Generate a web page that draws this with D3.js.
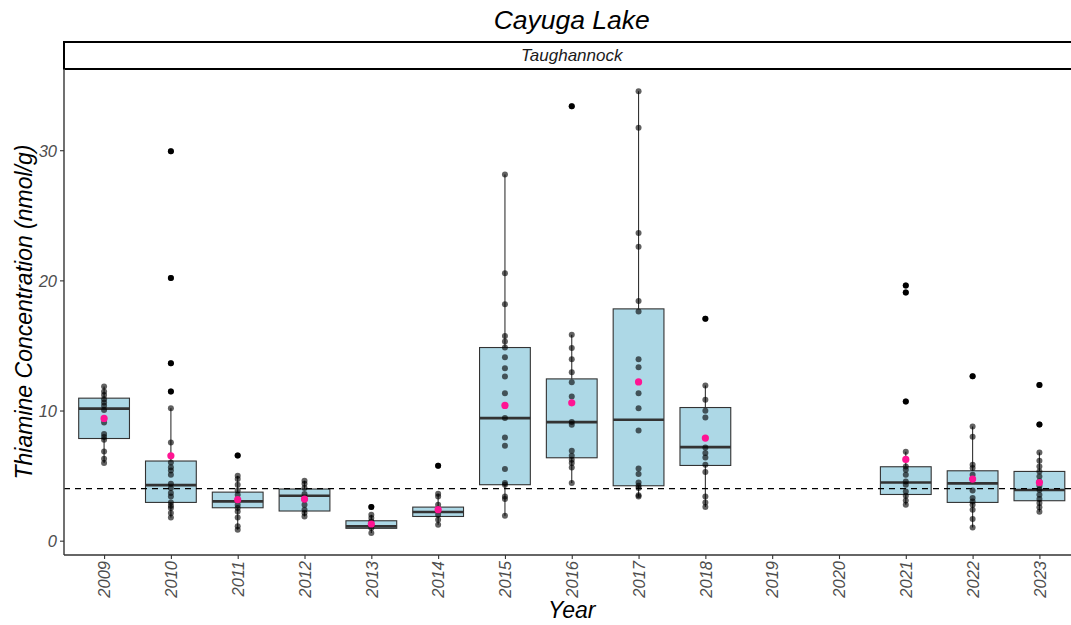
<!DOCTYPE html>
<html><head><meta charset="utf-8">
<script src="https://cdn.jsdelivr.net/npm/d3@7"></script>
<style>body{margin:0;background:#fff}svg{display:block}text{font-family:"Liberation Sans",Arial,sans-serif}</style>
</head><body><svg id="c" width="1071" height="625"></svg>
<script>
const years = ["2009","2010","2011","2012","2013","2014","2015","2016","2017","2018","2019","2020","2021","2022","2023"];
// box stats
const boxYears = ["2009","2010","2011","2012","2013","2014","2015","2016","2017","2018","2021","2022","2023"];
const whiskerLow = [5.96,1.79,0.84,1.86,0.59,1.23,1.92,4.43,3.40,2.58,2.76,1.02,2.23];
const q1 =        [7.85,2.94,2.53,2.28,0.95,1.86,4.30,6.37,4.22,5.78,3.55,2.94,3.07];
const median =    [10.15,4.27,3.02,3.45,1.10,2.20,9.42,9.11,9.29,7.19,4.47,4.40,3.89];
const q3 =        [10.95,6.12,3.73,3.97,1.53,2.58,14.84,12.43,17.81,10.23,5.68,5.37,5.32];
const whiskerHigh=[11.84,10.18,4.99,4.60,2.00,3.61,28.14,15.83,34.54,11.92,6.83,8.77,6.78];
const means =     [9.39,6.52,3.15,3.20,1.28,2.38,10.39,10.59,12.20,7.88,6.24,4.73,4.47];
const outliers = {
  "2010":[11.46,13.64,20.18,29.93],
  "2011":[6.55],
  "2013":[2.58],
  "2014":[5.76],
  "2016":[33.38],
  "2018":[17.06],
  "2021":[10.69,19.06,19.60],
  "2022":[12.64],
  "2023":[8.93,11.97]
};
const points = {
  "2009":[11.84,11.46,11.2,10.87,10.62,10.36,10.05,9.08,8.19,7.96,7.75,6.85,6.29,5.96],
  "2010":[29.93,20.18,13.64,11.46,10.18,7.55,6.01,5.65,5.40,5.07,4.37,4.04,3.66,3.40,2.94,2.69,2.51,2.12,1.79],
  "2011":[6.55,4.99,4.73,4.30,3.86,3.53,3.15,2.76,2.51,2.25,1.79,1.10,0.84],
  "2012":[4.60,4.37,4.04,3.58,3.15,2.76,2.38,2.12,1.86],
  "2013":[2.58,2.00,1.74,1.48,1.20,0.97,0.59],
  "2014":[5.76,3.61,3.40,2.76,2.38,2.00,1.61,1.23],
  "2015":[28.14,20.54,18.16,15.73,15.30,14.84,14.10,13.25,12.61,11.33,9.42,7.93,7.29,5.50,4.43,4.30,3.40,3.20,1.92],
  "2016":[33.38,15.83,14.81,13.94,12.95,12.18,11.07,9.11,8.90,6.91,6.52,6.22,5.96,5.63,4.43],
  "2017":[34.54,31.72,23.64,22.59,18.42,17.60,13.94,13.33,11.33,10.18,8.47,5.55,5.12,4.47,4.22,4.04,3.50,3.40],
  "2018":[17.06,11.92,10.82,9.98,9.46,7.16,6.73,6.39,5.83,5.27,3.40,2.94,2.58],
  "2021":[19.60,19.06,10.69,6.83,5.70,5.45,5.07,4.55,4.30,3.78,3.45,3.09,2.76],
  "2022":[12.64,8.77,7.98,5.83,5.58,5.07,4.73,3.86,3.28,3.02,2.76,2.38,1.67,1.02],
  "2023":[11.97,8.93,6.78,6.14,5.70,5.32,4.93,4.55,4.22,3.91,3.53,3.20,2.89,2.56,2.23]
};
const yTicks = [0,10,20,30];
const threshold = 4;

(function(){
const svg = d3.select("#c");
const pL = 64, pR = 1079.5, pT = 69, pB = 555;
const x = d3.scalePoint().domain(years).range([pL, pR]).padding(0.6);
const step = x.step();
const bw = step * 0.76;
const y = d3.scaleLinear().domain([-1.1, 36.24]).range([pB, pT]);

svg.append("text").attr("x", (pL+pR)/2).attr("y", 28.5).attr("text-anchor","middle")
  .style("font-size","26.5px").style("font-style","italic").attr("fill","#000").text("Cayuga Lake");
svg.append("rect").attr("x", pL).attr("y", 42).attr("width", pR-pL).attr("height", 27)
  .attr("fill","#fff").attr("stroke","#000").attr("stroke-width",2);
svg.append("text").attr("x",(pL+pR)/2).attr("y",61).attr("text-anchor","middle")
  .style("font-size","17px").style("font-style","italic").attr("fill","#1a1a1a").text("Taughannock");

const g = svg.append("g");
const boxes = boxYears.map((yr,i)=>({yr, lo:whiskerLow[i], q1:q1[i], med:median[i], q3:q3[i], hi:whiskerHigh[i], mean:means[i]}));

g.selectAll(".wh").data(boxes).join("line")
  .attr("x1",d=>x(d.yr)).attr("x2",d=>x(d.yr))
  .attr("y1",d=>y(d.lo)).attr("y2",d=>y(d.hi))
  .attr("stroke","#333").attr("stroke-width",1.1);
g.selectAll(".bx").data(boxes).join("rect")
  .attr("x",d=>x(d.yr)-bw/2).attr("width",bw)
  .attr("y",d=>y(d.q3)).attr("height",d=>y(d.q1)-y(d.q3))
  .attr("fill","#ADD8E6").attr("stroke","#333").attr("stroke-width",1.1);
g.selectAll(".md").data(boxes).join("line")
  .attr("x1",d=>x(d.yr)-bw/2).attr("x2",d=>x(d.yr)+bw/2)
  .attr("y1",d=>y(d.med)).attr("y2",d=>y(d.med))
  .attr("stroke","#333").attr("stroke-width",2.6);
const outData = [];
Object.keys(outliers).forEach(k=>outliers[k].forEach(v=>outData.push({yr:k,v})));
g.selectAll(".ol").data(outData).join("circle")
  .attr("cx",d=>x(d.yr)).attr("cy",d=>y(d.v)).attr("r",3)
  .attr("fill","#000");
g.append("line").attr("x1",pL).attr("x2",pR).attr("y1",y(threshold)).attr("y2",y(threshold))
  .attr("stroke","#000").attr("stroke-width",1.2).attr("stroke-dasharray","6,5");
const ptData = [];
Object.keys(points).forEach(k=>points[k].forEach(v=>ptData.push({yr:k,v})));
g.selectAll(".pt").data(ptData).join("circle")
  .attr("cx",d=>x(d.yr)).attr("cy",d=>y(d.v)).attr("r",3)
  .attr("fill","#000").attr("fill-opacity",0.62);
g.selectAll(".mn").data(boxes).join("circle")
  .attr("cx",d=>x(d.yr)).attr("cy",d=>y(d.mean)).attr("r",3.6)
  .attr("fill","#FF1493");

const yAxis = svg.append("g").attr("transform",`translate(${pL},0)`)
  .call(d3.axisLeft(y).tickValues(yTicks).tickSize(4).tickPadding(3));
yAxis.select(".domain").attr("stroke","#4d4d4d").attr("stroke-width",1.6).attr("d",`M0,${pT}V${pB}`);
yAxis.selectAll(".tick line").attr("stroke","#333").attr("stroke-width",1.1);
yAxis.selectAll(".tick text").attr("fill","#4d4d4d").style("font-size","16.5px").style("font-style","italic").attr("dy","0.36em");

const xAxis = svg.append("g").attr("transform",`translate(0,${pB})`)
  .call(d3.axisBottom(x).tickSize(4).tickPadding(3));
xAxis.select(".domain").attr("stroke","#333").attr("stroke-width",1.6).attr("d",`M${pL},0H${pR}`);
xAxis.selectAll(".tick line").attr("stroke","#333").attr("stroke-width",1.1);
xAxis.selectAll(".tick text").attr("fill","#4d4d4d").style("font-size","16.5px").style("font-style","italic")
  .attr("transform","rotate(-90)").attr("text-anchor","end").attr("x",-6).attr("y",0).attr("dy","0.35em");

svg.append("text").attr("x",(pL+pR)/2).attr("y",618).attr("text-anchor","middle")
  .style("font-size","23px").style("font-style","italic").attr("fill","#000").text("Year");
svg.append("text").attr("transform",`translate(32,${(pT+pB)/2}) rotate(-90)`).attr("text-anchor","middle")
  .style("font-size","23px").style("font-style","italic").attr("fill","#000").text("Thiamine Concentration (nmol/g)");
})();
</script></body></html>
